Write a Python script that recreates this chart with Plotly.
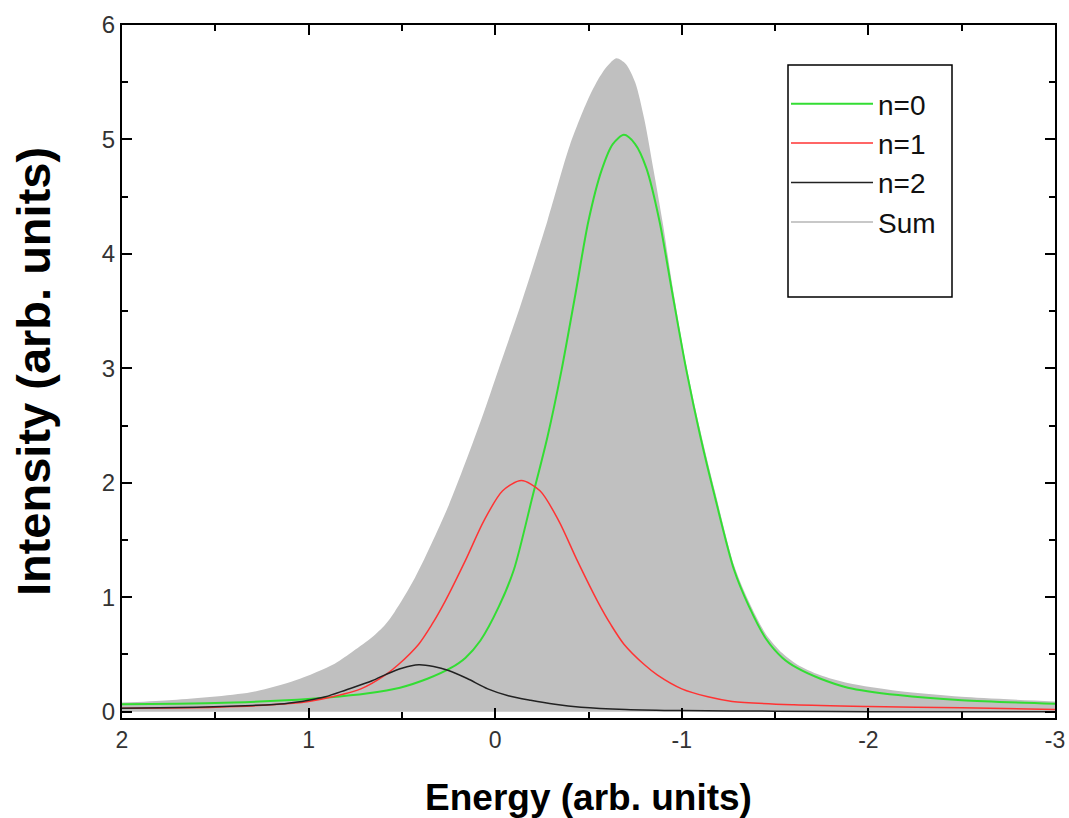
import plotly.graph_objects as go

# ---- data ----
x_n0 = [2.0, 1.7, 1.4, 1.12, 0.9, 0.69, 0.51, 0.36, 0.24, 0.16, 0.08, -0.02, -0.1, -0.2, -0.28,
        -0.355, -0.43, -0.5, -0.57, -0.63, -0.69, -0.75, -0.81, -0.88, -0.95, -1.025, -1.1,
        -1.18, -1.28, -1.36, -1.45, -1.54, -1.62, -1.74, -1.89, -2.16, -2.5, -3.0]
y_n0 = [0.065, 0.07, 0.08, 0.10, 0.125, 0.16, 0.21, 0.29, 0.38, 0.47, 0.62, 0.92, 1.24, 1.88, 2.4,
        2.98, 3.65, 4.29, 4.73, 4.96, 5.04, 4.96, 4.75, 4.29, 3.65, 2.98, 2.4,
        1.86, 1.24, 0.92, 0.64, 0.47, 0.38, 0.29, 0.21, 0.145, 0.10, 0.07]

x_n1 = [2.0, 1.5, 1.2, 1.0, 0.86, 0.72, 0.59, 0.52, 0.41, 0.34, 0.27, 0.16, 0.06, -0.04, -0.14,
        -0.24, -0.34, -0.44, -0.55, -0.62, -0.69, -0.8, -0.87, -1.0, -1.14, -1.27, -1.6, -2.0,
        -2.5, -3.0]
y_n1 = [0.03, 0.04, 0.06, 0.09, 0.135, 0.20, 0.32, 0.41, 0.59, 0.76, 0.96, 1.32, 1.67, 1.93, 2.02,
        1.93, 1.67, 1.32, 0.96, 0.76, 0.59, 0.41, 0.32, 0.20, 0.13, 0.09, 0.06, 0.045,
        0.035, 0.02]

x_n2 = [2.0, 1.6, 1.3, 1.13, 1.0, 0.91, 0.8, 0.66, 0.58, 0.5, 0.41, 0.33, 0.25, 0.15, 0.04,
        -0.07, -0.19, -0.32, -0.46, -0.7, -1.0, -1.5, -2.0, -3.0]
y_n2 = [0.03, 0.04, 0.055, 0.07, 0.10, 0.13, 0.19, 0.27, 0.33, 0.38, 0.41, 0.395, 0.36, 0.29, 0.20,
        0.14, 0.10, 0.065, 0.04, 0.02, 0.01, 0.005, 0.0, 0.0]

x_sum = [2.0, 1.75, 1.31, 1.07, 0.86, 0.76, 0.66, 0.59, 0.54, 0.43, 0.25, 0.075, -0.02, -0.14,
         -0.28, -0.4, -0.5, -0.55, -0.6, -0.65, -0.7, -0.75, -0.8, -0.85, -0.9, -0.95, -1.025,
         -1.1, -1.18, -1.28, -1.36, -1.45, -1.54, -1.62, -1.74, -1.89, -2.16, -2.5, -3.0]
y_sum = [0.08, 0.10, 0.17, 0.275, 0.42, 0.53, 0.65, 0.76, 0.87, 1.17, 1.80, 2.55, 3.0, 3.57,
         4.29, 4.95, 5.36, 5.52, 5.64, 5.71, 5.66, 5.50, 5.17, 4.72, 4.25, 3.72, 3.02,
         2.45, 1.91, 1.28, 0.96, 0.68, 0.51, 0.41, 0.32, 0.25, 0.18, 0.13, 0.09]

x_ticks = [2, 1, 0, -1, -2, -3]
x_ticklabels = ["2", "1", "0", "-1", "-2", "-3"]
y_ticks = [0, 1, 2, 3, 4, 5, 6]
y_ticklabels = ["0", "1", "2", "3", "4", "5", "6"]

names = ["n=0", "n=1", "n=2", "Sum"]
colors = ["#33dd33", "#ff3333", "#222222", "#c8c8c8"]

FONT = "Arial, Liberation Sans, sans-serif"

fig = go.Figure()

# gray filled sum
fig.add_trace(go.Scatter(x=x_sum, y=y_sum, mode="lines", fill="tozeroy",
                         fillcolor="#c0c0c0", line=dict(color="#c0c0c0", width=0, shape="spline", smoothing=0.8),
                         showlegend=False, hoverinfo="skip"))
fig.add_trace(go.Scatter(x=x_n0, y=y_n0, mode="lines", name=names[0], legendgroup="a",
                         line=dict(color=colors[0], width=2, shape="spline", smoothing=0.8)))
fig.add_trace(go.Scatter(x=x_n1, y=y_n1, mode="lines", name=names[1], legendgroup="b",
                         line=dict(color=colors[1], width=1.5, shape="spline", smoothing=0.8)))
fig.add_trace(go.Scatter(x=x_n2, y=y_n2, mode="lines", name=names[2], legendgroup="c",
                         line=dict(color=colors[2], width=1.5, shape="spline", smoothing=0.8)))
# legend entry for Sum (line sample only)
fig.add_trace(go.Scatter(x=[None], y=[None], mode="lines", name=names[3], legendgroup="d",
                         line=dict(color=colors[3], width=2)))

axis_common = dict(showline=True, linecolor="black", linewidth=2, mirror="allticks",
                   ticks="inside", ticklen=10, tickwidth=2, tickcolor="black",
                   showgrid=False, zeroline=False, automargin=False,
                   minor=dict(ticks="inside", ticklen=6, tickwidth=2, tickcolor="black", dtick=0.5))

fig.update_xaxes(range=[2, -3], autorange=False, tickmode="array",
                 tickvals=x_ticks, ticktext=x_ticklabels,
                 tickfont=dict(family=FONT, size=23, color="#333333"),
                 title=dict(text="<b>Energy (arb. units)</b>", font=dict(family=FONT, size=37, color="black"),
                            standoff=33),
                 **axis_common)
fig.update_yaxes(range=[-0.055, 6.0], autorange=False, tickmode="array",
                 tickvals=y_ticks, ticktext=y_ticklabels,
                 tickfont=dict(family=FONT, size=24, color="#333333"),
                 title=dict(text="<b>Intensity (arb. units)</b>", font=dict(family=FONT, size=47, color="black"),
                            standoff=36),
                 **axis_common)

W, H = 1069, 818
L, R, T, B = 122, 14, 25, 100
pw, ph = W - L - R, H - T - B

def px2x(px):
    return (px - L) / pw

def py2y(py):
    return (H - B - py) / ph

fig.add_shape(type="rect", xref="paper", yref="paper",
              x0=px2x(788), x1=px2x(952), y0=py2y(297), y1=py2y(65),
              line=dict(color="black", width=1.5), fillcolor="rgba(0,0,0,0)")

fig.update_layout(
    width=W, height=H,
    margin=dict(l=L, r=R, t=T, b=B),
    plot_bgcolor="white", paper_bgcolor="white",
    legend=dict(x=px2x(786), y=py2y(79), xanchor="left", yanchor="top",
                bgcolor="rgba(0,0,0,0)", borderwidth=0,
                font=dict(family=FONT, size=28, color="#111111"),
                itemwidth=82, tracegroupgap=3, traceorder="normal"),
)

fig.write_html("out.html")
